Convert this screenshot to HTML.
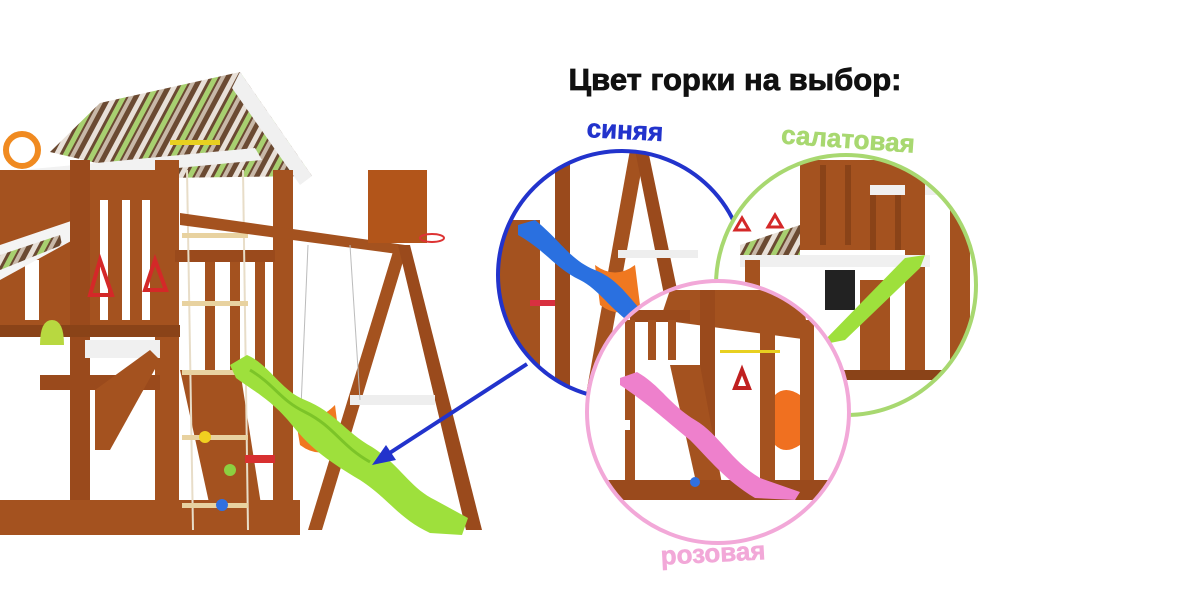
<!DOCTYPE html>
<html><head><meta charset="utf-8"><style>
html,body{margin:0;padding:0;background:#fff;width:1200px;height:600px;overflow:hidden}
svg{display:block}
text{font-family:"Liberation Sans",sans-serif;font-weight:bold}
</style></head><body>
<svg width="1200" height="600" viewBox="0 0 1200 600" xmlns="http://www.w3.org/2000/svg">
<defs>
<pattern id="stripes" width="24" height="24" patternUnits="userSpaceOnUse" patternTransform="rotate(28)">
<rect width="24" height="24" fill="#6b4a32"/><rect x="0" width="5" height="24" fill="#e8e0d8"/><rect x="8" width="5" height="24" fill="#a8d070"/><rect x="15" width="4" height="24" fill="#c8b8a8"/>
</pattern>
<clipPath id="cb"><circle cx="622" cy="275" r="124"/></clipPath>
<clipPath id="cg"><circle cx="846" cy="285" r="130"/></clipPath>
<clipPath id="cp"><circle cx="718" cy="412" r="131"/></clipPath>
</defs>

<g>
<polygon points="50,152 100,103 240,72 312,176 160,178" fill="url(#stripes)"/>
<polygon points="240,72 312,176 300,185 232,88" fill="#f0f0f0"/>
<polygon points="0,172 255,148 262,160 0,185" fill="#f2f2f2"/>
<circle cx="22" cy="150" r="16" fill="none" stroke="#f08a20" stroke-width="6"/>
<rect x="0" y="170" width="178" height="160" fill="#a4521f"/>
<g fill="#fff"><rect x="100" y="200" width="8" height="120"/><rect x="122" y="200" width="8" height="120"/><rect x="142" y="200" width="8" height="120"/><rect x="25" y="260" width="14" height="60"/></g>
<polygon points="0,245 80,218 82,235 0,280" fill="#f4f4f4"/>
<polygon points="0,255 60,235 62,245 0,270" fill="url(#stripes)"/>
<rect x="70" y="160" width="20" height="375" fill="#9a4a1c"/>
<rect x="155" y="160" width="24" height="375" fill="#a4521f"/>
<rect x="273" y="170" width="20" height="365" fill="#a4521f"/>
<rect x="175" y="250" width="100" height="12" fill="#9a4a1c"/>
<g fill="#a4521f"><rect x="205" y="262" width="10" height="110"/><rect x="230" y="262" width="10" height="110"/><rect x="255" y="262" width="10" height="110"/></g>
<rect x="0" y="325" width="180" height="12" fill="#8a4318"/>
<rect x="85" y="340" width="75" height="18" fill="#f0f0f0"/>
<rect x="40" y="375" width="120" height="15" fill="#9a4a1c"/>
<polygon points="95,390 150,350 160,360 110,450 95,450" fill="#a4521f"/>
<polygon points="180,370 240,370 265,530 215,530" fill="#a4521f"/>
<rect x="0" y="500" width="300" height="35" fill="#a4521f"/>
<path d="M100,260 L90,295 L112,295 Z" fill="none" stroke="#d42828" stroke-width="4"/>
<path d="M155,260 L145,290 L166,290 Z" fill="none" stroke="#d42828" stroke-width="4"/>
<path d="M40,345 q0,-25 12,-25 q12,0 12,25 z" fill="#b8d840"/>
<rect x="170" y="140" width="50" height="5" fill="#e8d020"/>
<line x1="187" y1="170" x2="193" y2="530" stroke="#e8ddc8" stroke-width="2"/>
<line x1="243" y1="170" x2="248" y2="530" stroke="#e8ddc8" stroke-width="2"/>
<g fill="#e8d2a0"><rect x="182" y="233" width="66" height="5"/><rect x="182" y="301" width="66" height="5"/><rect x="182" y="370" width="66" height="5"/><rect x="182" y="435" width="66" height="5"/><rect x="182" y="503" width="66" height="5"/></g>
<circle cx="205" cy="437" r="6" fill="#f0d020"/><circle cx="230" cy="470" r="6" fill="#8cd040"/><circle cx="222" cy="505" r="6" fill="#3070e0"/>
<polygon points="180,213 405,245 405,255 180,225" fill="#a4521f"/>
<rect x="368" y="170" width="59" height="73" fill="#b2551a"/>
<ellipse cx="432" cy="238" rx="12" ry="4" fill="none" stroke="#d33" stroke-width="2"/>
<polygon points="395,245 408,245 322,530 308,530" fill="#a4521f"/>
<polygon points="398,245 410,245 482,530 466,530" fill="#9a4a1c"/>
<rect x="350" y="395" width="85" height="10" fill="#eee"/>
<line x1="308" y1="245" x2="300" y2="430" stroke="#bbb" stroke-width="1"/>
<line x1="350" y1="245" x2="360" y2="400" stroke="#bbb" stroke-width="1"/>
<path d="M295,415 q20,10 40,-10 l5,40 q-20,15 -40,0 z" fill="#f07820"/>
<rect x="245" y="455" width="30" height="8" fill="#d83030"/>
<path d="M230,365 L247,355 C270,365 280,390 305,400 C335,412 345,432 372,447 C400,465 410,488 435,500 L468,518 L462,535 L430,533 C398,518 388,498 360,480 C330,462 312,450 292,425 C272,400 252,390 236,378 Z" fill="#9ee03c"/>
<path d="M250,370 C275,385 280,400 305,412 C335,427 340,445 370,462" fill="none" stroke="#7cc428" stroke-width="3"/>
</g>

<line x1="527" y1="364" x2="385" y2="456" stroke="#2233cc" stroke-width="4"/>
<polygon points="372,465 386,445 396,460" fill="#2233cc"/>

<g clip-path="url(#cb)">
<rect x="490" y="140" width="270" height="280" fill="#fff"/>
<rect x="500" y="220" width="40" height="190" fill="#a4521f"/>
<rect x="555" y="160" width="15" height="250" fill="#9a4a1c"/>
<polygon points="630,150 645,150 600,400 585,400" fill="#a4521f"/>
<polygon points="635,150 648,150 700,400 685,400" fill="#9a4a1c"/>
<rect x="618" y="250" width="80" height="8" fill="#eee"/>
<path d="M595,265 q20,15 40,0 l5,40 q-20,15 -40,0 z" fill="#f07820"/>
<path d="M518,225 L535,220 C560,240 570,260 595,270 C620,280 630,300 650,320 L640,330 C610,310 600,290 580,280 C555,268 545,250 518,235 Z" fill="#2a70e0"/>
<rect x="530" y="300" width="25" height="6" fill="#d83040"/>
</g>
<circle cx="622" cy="275" r="124" fill="none" stroke="#2233cc" stroke-width="4"/>

<g clip-path="url(#cg)">
<rect x="710" y="150" width="280" height="280" fill="#fff"/>
<rect x="800" y="160" width="110" height="90" fill="#a4521f"/>
<g fill="#8a4318"><rect x="820" y="165" width="6" height="80"/><rect x="845" y="165" width="6" height="80"/><rect x="870" y="195" width="6" height="55"/><rect x="895" y="195" width="6" height="55"/></g>
<rect x="870" y="185" width="80" height="10" fill="#f0f0f0"/>
<rect x="905" y="160" width="20" height="220" fill="#a4521f"/>
<rect x="950" y="180" width="20" height="200" fill="#a4521f"/>
<polygon points="740,245 800,225 800,260 740,265" fill="url(#stripes)"/>
<rect x="740" y="255" width="190" height="12" fill="#f0f0f0"/>
<rect x="745" y="260" width="15" height="120" fill="#a4521f"/>
<rect x="825" y="270" width="30" height="40" fill="#222"/>
<rect x="860" y="280" width="30" height="90" fill="#a4521f"/>
<rect x="740" y="370" width="240" height="10" fill="#8a4318"/>
<path d="M742,218 l-7,12 h14 z" fill="none" stroke="#d42828" stroke-width="3"/>
<path d="M775,215 l-7,12 h14 z" fill="none" stroke="#d42828" stroke-width="3"/>
<path d="M820,345 L905,258 L925,255 L920,268 L845,340 Z" fill="#9ee03c"/>
</g>
<circle cx="846" cy="285" r="130" fill="none" stroke="#a8d870" stroke-width="4"/>

<g clip-path="url(#cp)">
<rect x="580" y="275" width="280" height="280" fill="#fff"/>
<polygon points="670,290 800,290 810,340 660,320" fill="#a4521f"/>
<rect x="630" y="310" width="60" height="12" fill="#9a4a1c"/>
<g fill="#a4521f"><rect x="625" y="320" width="10" height="175"/><rect x="648" y="320" width="8" height="40"/><rect x="668" y="320" width="8" height="40"/></g>
<rect x="700" y="290" width="15" height="200" fill="#9a4a1c"/>
<rect x="760" y="305" width="15" height="190" fill="#a4521f"/>
<rect x="800" y="320" width="14" height="175" fill="#a4521f"/>
<rect x="720" y="350" width="60" height="3" fill="#e8d020"/>
<path d="M742,370 l-7,18 h14 z" fill="none" stroke="#c02020" stroke-width="4"/>
<path d="M775,395 q10,-10 25,0 v50 q-15,10 -25,0 z" fill="#f07020"/>
<polygon points="670,365 700,365 725,500 700,500" fill="#a4521f"/>
<rect x="590" y="420" width="40" height="10" fill="#fff"/>
<rect x="585" y="480" width="270" height="20" fill="#9a4a1c"/>
<path d="M620,378 L637,372 C660,385 670,405 695,420 C720,435 730,460 760,478 L800,492 L795,500 L755,498 C725,480 710,460 690,440 C665,420 650,405 620,385 Z" fill="#ee80cc"/>
<circle cx="695" cy="482" r="5" fill="#3070e0"/>
</g>
<circle cx="718" cy="412" r="131" fill="none" stroke="#f2a8d8" stroke-width="4"/>

<text x="735" y="90" font-size="31" text-anchor="middle" fill="#111" stroke="#111" stroke-width="0.8">Цвет горки на выбор:</text>
<text x="625" y="139" font-size="26" text-anchor="middle" fill="#2233cc" stroke="#2233cc" stroke-width="0.6" transform="rotate(3 625 130)">синяя</text>
<text x="848" y="148" font-size="26" text-anchor="middle" fill="#a8d870" stroke="#a8d870" stroke-width="0.6" transform="rotate(4 848 140)">салатовая</text>
<text x="713" y="562" font-size="26" text-anchor="middle" fill="#f2a8d8" stroke="#f2a8d8" stroke-width="0.6" transform="rotate(-3 713 553)">розовая</text>
</svg>
</body></html>
